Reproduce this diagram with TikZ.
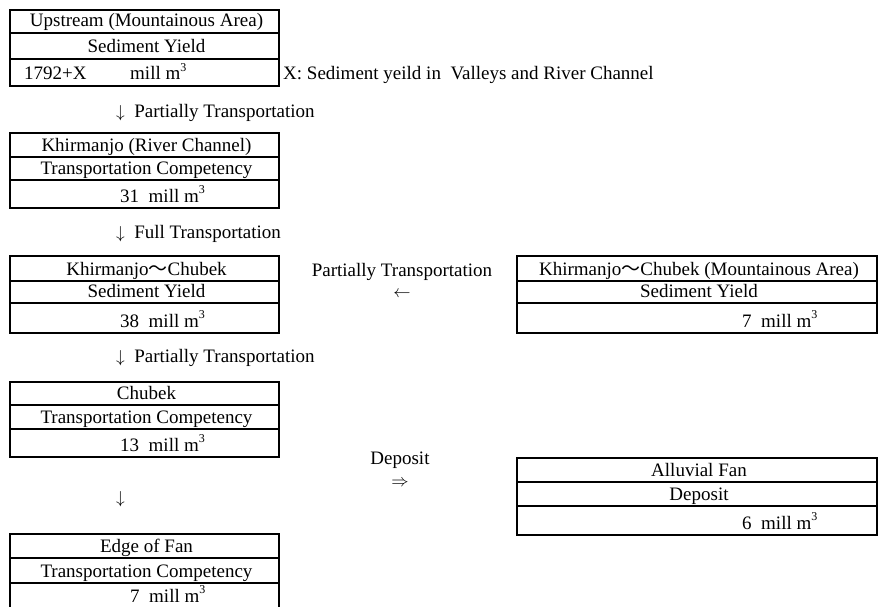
\documentclass[tikz,border=0pt]{standalone}
\usepackage{fontspec}
\setmainfont{Liberation Serif}
\newfontfamily\cjk{Noto Sans CJK JP}
\newcommand\wave{{\cjk ～}}
\newcommand\cube{m\raisebox{0.45em}{\fontsize{12}{12}\selectfont 3}}
% three-row table: name, left, right, top, rule 1, rule 2, bottom, row 1, row 2
\newcommand\tablebox[9]{%
  \draw[frame] (#2,#4) rectangle (#3,#7);
  \draw[rowrule] (#2,#5) -- (#3,#5) (#2,#6) -- (#3,#6);
  \coordinate (#1) at ({(#2+#3)/2},#4);
  \node[cell] (#1-a) at ({(#2+#3)/2+2},#5-6) {#8};
  \node[cell] (#1-b) at ({(#2+#3)/2+2},#6-6) {#9};
}
\begin{document}
\begin{tikzpicture}[x=1pt,y=-1pt,
  every node/.style={inner sep=0pt,font=\fontsize{19}{22}\selectfont},
  frame/.style={line width=2.2pt},
  rowrule/.style={line width=1.4pt},
  cell/.style={anchor=base},
  note/.style={anchor=base west},
  mid/.style={anchor=base},
]
\useasboundingbox[fill=white] (0,0) rectangle (878,607);

% left column
\tablebox{up}{10}{279}{10}{33}{59}{86}{Upstream (Mountainous Area)}{Sediment Yield}
\node[note] (up-c1) at (24,80) {1792+X};
\node[note] (up-c2) at (130,80) {mill \cube};
\node[note] (xnote) at (283,80) {X: Sediment yeild in\ \ Valleys and River Channel};

\node[note] (t1) at (116,118) {$\downarrow$\ \ Partially Transportation};

\tablebox{kh}{10}{279}{133}{157}{180}{208}{Khirmanjo (River Channel)}{Transportation Competency}
\node[note] (kh-c) at (120,202) {31\ \ mill \cube};

\node[note] (t2) at (116,238) {$\downarrow$\ \ Full Transportation};

\tablebox{kc}{10}{279}{256}{281}{303}{333}{Khirmanjo\wave Chubek}{Sediment Yield}
\node[note] (kc-c) at (120,327) {38\ \ mill \cube};

\node[note] (t3) at (116,362) {$\downarrow$\ \ Partially Transportation};

\tablebox{ch}{10}{279}{382}{405}{429}{457}{Chubek}{Transportation Competency}
\node[note] (ch-c) at (120,451) {13\ \ mill \cube};

\node[note] (t4) at (116,503) {$\downarrow$};

% the last table runs on past the lower edge
\tablebox{ef}{10}{279}{534}{558}{583}{612}{Edge of Fan}{Transportation Competency}
\node[note] (ef-c) at (130,602) {7\ \ mill \cube};

% right column
\tablebox{mt}{517}{877}{256}{281}{303}{333}{Khirmanjo\wave Chubek (Mountainous Area)}{Sediment Yield}
\node[note] (mt-c) at (742,327) {7\ \ mill \cube};

\tablebox{af}{517}{877}{458}{482}{506}{535}{Alluvial Fan}{Deposit}
\node[note] (af-c) at (742,529) {6\ \ mill \cube};

% transfers between the columns
\node[mid] (side1) at (402,276) {Partially Transportation};
\node[mid] (side1a) at (402,297) {$\leftarrow$};
\node[mid] (side2) at (400,464) {Deposit};
\node[mid] (side2a) at (400,486) {$\Rightarrow$};
\end{tikzpicture}
\end{document}
